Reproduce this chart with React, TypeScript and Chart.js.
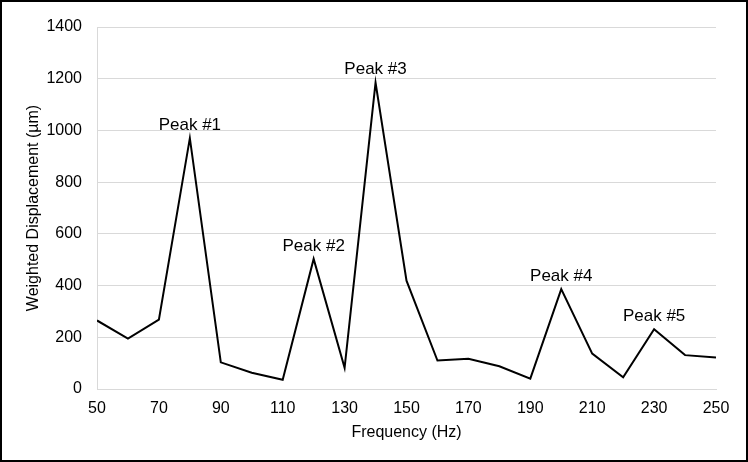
import React, { useEffect, useRef } from "react";
import { Chart, registerables } from "chart.js";

Chart.register(...registerables);

const frequencies = [50, 60, 70, 80, 90, 100, 110, 120, 130, 140, 150, 160, 170, 180, 190, 200, 210, 220, 230, 240, 250];
const displacement = [265, 195, 268, 970, 103, 63, 36, 503, 82, 1185, 419, 110, 117, 88, 40, 386, 137, 45, 231, 131, 122];
const peakFrequencies = [80, 120, 140, 200, 230];
const peakLabels = ["Peak #1", "Peak #2", "Peak #3", "Peak #4", "Peak #5"];

const FONT = "Arial, 'Liberation Sans', sans-serif";

const peakPlugin = {
  id: "peakLabels",
  afterDatasetsDraw(chart: any) {
    const meta = chart.getDatasetMeta(0);
    const ctx = chart.ctx;
    ctx.save();
    ctx.fillStyle = "#000";
    ctx.font = `17px ${FONT}`;
    ctx.textAlign = "center";
    ctx.textBaseline = "middle";
    peakFrequencies.forEach((f, k) => {
      const idx = frequencies.indexOf(f);
      const pt = meta.data[idx];
      if (pt) ctx.fillText(peakLabels[k], pt.x, pt.y - 13);
    });
    ctx.restore();
  },
};

export default function App() {
  const ref = useRef<HTMLCanvasElement | null>(null);
  useEffect(() => {
    if (!ref.current) return;
    const chart = new Chart(ref.current, {
      type: "line",
      data: {
        datasets: [
          {
            data: frequencies.map((f, i) => ({ x: f, y: displacement[i] })),
            borderColor: "#000",
            borderWidth: 2,
            pointRadius: 0,
            tension: 0,
            fill: false,
          },
        ],
      },
      options: {
        responsive: false,
        animation: false,
        layout: { padding: { left: 24, right: 32, top: 27, bottom: 20 } },
        plugins: { legend: { display: false }, tooltip: { enabled: false } },
        scales: {
          x: {
            type: "linear",
            min: 50,
            max: 250,
            afterFit: (scale: any) => { scale.height = 53; },
            ticks: { stepSize: 20, color: "#000", font: { size: 16, family: FONT }, padding: 10, callback: (v: any) => String(v) },
            grid: { display: false, drawTicks: false },
            border: { display: true, color: "#d9d9d9", width: 1 },
            title: { display: true, text: "Frequency (Hz)", color: "#000", font: { size: 16, family: FONT }, padding: { top: 2, bottom: 0 } },
          },
          y: {
            min: 0,
            max: 1400,
            afterFit: (scale: any) => { scale.width = 73; },
            ticks: { stepSize: 200, color: "#000", font: { size: 16, family: FONT }, padding: 15, callback: (v: any) => String(v) },
            grid: { color: "#d9d9d9", lineWidth: 1, drawTicks: false },
            border: { display: true, color: "#d9d9d9", width: 1 },
            title: { display: true, text: "Weighted Displacement (µm)", color: "#000", font: { size: 16, family: FONT }, padding: { top: 0, bottom: 6 } },
          },
        },
      },
      plugins: [peakPlugin],
    });
    return () => chart.destroy();
  }, []);
  return (
    <div style={{ position: "fixed", left: 0, top: 0, width: 748, height: 462, background: "#fff" }}>
      <canvas ref={ref} width={748} height={462} style={{ position: "absolute", left: 0, top: 0 }} />
      <div
        style={{
          position: "absolute",
          left: 0,
          top: 0,
          width: 748,
          height: 462,
          boxSizing: "border-box",
          border: "2px solid #000",
          pointerEvents: "none",
        }}
      />
    </div>
  );
}
